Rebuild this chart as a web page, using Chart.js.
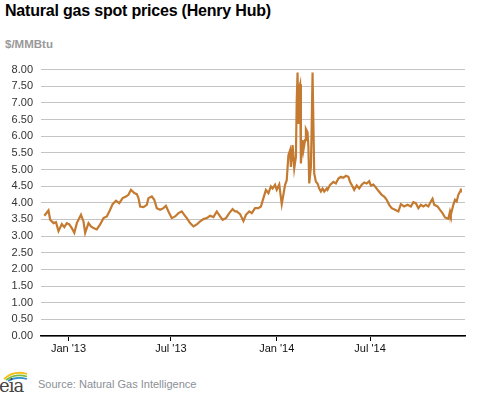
<!DOCTYPE html>
<html>
<head>
<meta charset="utf-8">
<script src="https://cdn.jsdelivr.net/npm/chart.js@4.4.0/dist/chart.umd.min.js"></script>
<style>
  body { margin: 0; background: #fff; font-family: "Liberation Sans", Arial, sans-serif; }
  #wrap { position: relative; width: 477px; height: 393px; overflow: hidden; }
  #title { position: absolute; left: 5px; top: 2px; font-size: 16px; font-weight: bold; color: #000; letter-spacing: -0.2px; }
  #unit { position: absolute; left: 5px; top: 38px; font-size: 11.5px; font-weight: bold; color: #999; }
  #chartBox { position: absolute; left: 0; top: 55px; width: 477px; height: 310px; }
  #logo { position: absolute; left: 0; top: 369px; }
  #source { position: absolute; left: 38px; top: 378px; font-size: 11px; color: #8a8f96; }
</style>
</head>
<body>
<div id="wrap">
  <div id="title">Natural gas spot prices (Henry Hub)</div>
  <div id="unit">$/MMBtu</div>
  <div id="chartBox"><canvas id="grafico" width="477" height="310"></canvas></div>
  <svg id="logo" width="32" height="24" viewBox="0 0 32 24">
    <path d="M4 10 Q14 1 27 5" stroke="#f2c21b" stroke-width="1.8" fill="none"/>
    <path d="M6 11 Q15 4 27 7.5" stroke="#7dbb42" stroke-width="1.8" fill="none"/>
    <path d="M8 12 Q16 7 27 10" stroke="#2a8fd0" stroke-width="1.8" fill="none"/>
    <text x="-1" y="23" font-family="DejaVu Serif, serif" font-size="18" fill="#444" letter-spacing="-1">eia</text>
  </svg>
  <div id="source">Source: Natural Gas Intelligence</div>
</div>
<script>
// dias de negociação (índice) e preço spot em $/MMBtu
const dias = [0, 5, 7, 11, 14, 17, 21, 24, 27, 30, 33, 36, 39, 44, 47, 49, 53, 56, 59, 63,
  67, 71, 75, 79, 82, 86, 90, 94, 98, 101, 104, 108, 111, 113, 115, 119, 123, 125, 129, 132,
  135, 139, 143, 146, 149, 153, 157, 161, 165, 168, 171, 175, 179, 183, 187, 191, 195, 199, 203, 207,
  211, 214, 218, 222, 226, 229, 231, 235, 239, 242, 246, 249, 253, 257, 260, 263, 266, 269, 272, 274,
  277, 279, 282, 285, 288, 289, 291, 293, 295, 296, 298, 299, 300, 302, 303, 304, 305, 306, 307, 308,
  310, 311, 313, 314, 316, 317, 318, 320, 321, 322, 323, 324, 326, 328, 330, 332, 334, 336, 339, 340,
  343, 347, 350, 353, 356, 359, 362, 365, 367, 370, 372, 375, 378, 381, 384, 387, 390, 392, 395, 398,
  401, 405, 408, 411, 414, 417, 421, 425, 428, 432, 436, 440, 443, 446, 449, 452, 455, 458, 461, 464,
  466, 468, 472, 475, 478, 481, 485, 487, 488, 491, 493, 495, 497, 499, 500];
const precos = [3.61, 3.77, 3.49, 3.39, 3.42, 3.15, 3.36, 3.27, 3.39, 3.35, 3.24, 3.10, 3.39, 3.64, 3.44, 3.10, 3.39, 3.29, 3.24, 3.20,
  3.35, 3.54, 3.59, 3.79, 3.96, 4.06, 3.99, 4.14, 4.19, 4.24, 4.39, 4.29, 4.26, 4.14, 3.89, 3.87, 3.94, 4.14, 4.19, 4.09,
  3.84, 3.79, 3.84, 3.91, 3.74, 3.54, 3.59, 3.69, 3.74, 3.64, 3.54, 3.39, 3.29, 3.35, 3.44, 3.51, 3.54, 3.61, 3.57, 3.74,
  3.59, 3.49, 3.54, 3.69, 3.81, 3.74, 3.74, 3.66, 3.45, 3.64, 3.74, 3.69, 3.84, 3.84, 3.89, 4.14, 4.39, 4.29, 4.49, 4.43,
  4.54, 4.39, 4.55, 3.96, 4.39, 4.54, 4.68, 5.43, 5.58, 5.08, 5.73, 5.38, 5.03, 5.38, 7.07, 7.91, 6.37, 7.46, 7.56, 5.18,
  5.88, 5.58, 5.88, 6.22, 6.12, 5.68, 4.58, 5.08, 6.37, 7.91, 6.37, 4.88, 4.63, 4.58, 4.43, 4.34, 4.43, 4.34, 4.43, 4.39,
  4.54, 4.63, 4.58, 4.73, 4.78, 4.75, 4.81, 4.78, 4.63, 4.49, 4.39, 4.52, 4.43, 4.54, 4.61, 4.58, 4.65, 4.52, 4.55, 4.46,
  4.36, 4.24, 4.19, 4.09, 3.94, 3.84, 3.79, 3.74, 3.96, 3.89, 3.94, 3.89, 4.02, 3.99, 3.84, 3.94, 3.89, 3.94, 3.89, 4.04,
  4.12, 3.94, 3.89, 3.79, 3.69, 3.56, 3.52, 3.74, 3.64, 3.94, 4.09, 4.04, 4.24, 4.34, 4.43];
// rótulos do eixo x
const tickDias = [29, 152, 279, 391];
const tickLabels = ["Jan '13", "Jul '13", "Jan '14", "Jul '14"];

const pontos = dias.map((d, i) => ({ x: d, y: precos[i] }));

const ctx = document.getElementById('grafico').getContext('2d');
const grafico = new Chart(ctx, {
  type: 'line',
  data: {
    datasets: [{
      label: 'Henry Hub',
      data: pontos,
      borderColor: '#c47b31',
      borderWidth: 2.2,
      pointRadius: 0,
      tension: 0,
      fill: false
    }]
  },
  options: {
    responsive: false,
    animation: false,
    layout: { padding: { top: 12, right: 12, left: 0, bottom: 0 } },
    plugins: { legend: { display: false }, tooltip: { enabled: false } },
    scales: {
      x: {
        type: 'linear',
        min: -4,
        max: 505,
        afterBuildTicks: (axis) => { axis.ticks = tickDias.map(v => ({ value: v })); },
        afterFit: (scale) => { scale.height = 29; },
        grid: { drawOnChartArea: false, drawTicks: true, tickLength: 5, color: '#000', lineWidth: 1 },
        border: { color: '#000', width: 1.5 },
        ticks: {
          autoSkip: false,
          maxRotation: 0,
          padding: 1,
          color: '#111',
          font: { family: 'Liberation Sans', size: 11 },
          callback: (v) => tickLabels[tickDias.indexOf(v)]
        }
      },
      y: {
        min: 0,
        max: 8,
        afterFit: (scale) => { scale.width = 41; },
        grid: { color: '#c4c4c4', lineWidth: 1, drawTicks: false },
        border: { display: false },
        ticks: {
          stepSize: 0.5,
          padding: 8,
          color: '#333',
          font: { family: 'Liberation Sans', size: 11 },
          callback: (v) => v.toFixed(2)
        }
      }
    }
  }
});
</script>
</body>
</html>
